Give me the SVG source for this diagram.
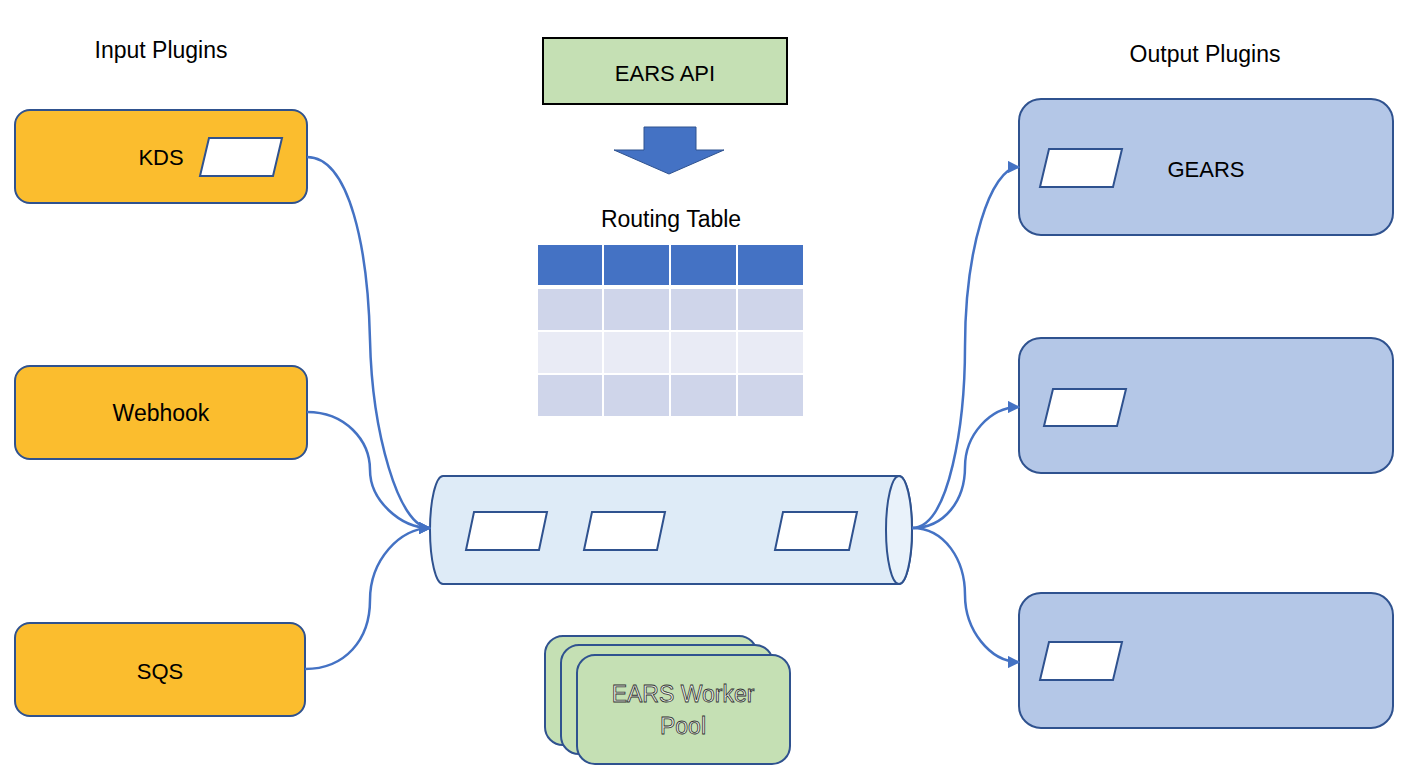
<svg xmlns="http://www.w3.org/2000/svg" width="1428" height="782" viewBox="0 0 1428 782">
<style>
  text { font-family: "Liberation Sans", Arial, sans-serif; fill: #000; text-anchor: middle; }
  .lbl { font-size: 23px; }
  .caps { font-size: 22px; }
  .inp { fill: #fbbd2e; stroke: #2f528f; stroke-width: 2; }
  .out { fill: #b4c7e7; stroke: #2f528f; stroke-width: 2; }
  .msg { fill: #ffffff; stroke: #2f528f; stroke-width: 2; }
  .conn { fill: none; stroke: #4472c4; stroke-width: 2.5; }
  .wp { fill: #c5e0b4; stroke: #2f528f; stroke-width: 2; }
  .hollow { font-size: 23px; fill: #eef3ea; stroke: #333333; stroke-width: 0.8; }
</style>
<defs>
  <marker id="arr" viewBox="0 0 10 10" refX="9" refY="5" markerWidth="5" markerHeight="5" orient="auto" markerUnits="strokeWidth">
    <path d="M0,0 L10,5 L0,10 Z" fill="#4472c4"/>
  </marker>
</defs>
<rect width="1428" height="782" fill="#ffffff"/>

<text class="lbl" x="161" y="58">Input Plugins</text>
<text class="lbl" x="1205" y="62">Output Plugins</text>

<g id="kds">
  <rect class="inp" x="15" y="110" width="292" height="93" rx="15"/>
  <text class="caps" x="161" y="165">KDS</text>
  <polygon class="msg" points="200,176 209,138 282,138 273,176"/>
</g>
<g id="webhook">
  <rect class="inp" x="15" y="366" width="292" height="93" rx="15"/>
  <text class="lbl" x="161" y="421">Webhook</text>
</g>
<g id="sqs">
  <rect class="inp" x="15" y="623" width="290" height="93" rx="15"/>
  <text class="caps" x="160" y="679">SQS</text>
</g>

<g id="ears-api">
  <rect x="543" y="38" width="244" height="66" fill="#c5e0b4" stroke="#000" stroke-width="2"/>
  <text class="caps" x="665" y="81">EARS API</text>
</g>
<g id="api-arrow">
  <polygon points="644,127 696,127 696,150 724,150 669,174 614,150 644,150" fill="#4472c4" stroke="#2f528f" stroke-width="1"/>
</g>

<g id="routing-table">
  <text class="lbl" x="671" y="227">Routing Table</text>
  <g stroke="#ffffff" stroke-width="2">
    <rect x="537" y="244" width="66" height="42" fill="#4472c4"/>
    <rect x="603" y="244" width="67" height="42" fill="#4472c4"/>
    <rect x="670" y="244" width="67" height="42" fill="#4472c4"/>
    <rect x="737" y="244" width="67" height="42" fill="#4472c4"/>
    <rect x="537" y="288" width="66" height="43" fill="#cfd5ea"/>
    <rect x="603" y="288" width="67" height="43" fill="#cfd5ea"/>
    <rect x="670" y="288" width="67" height="43" fill="#cfd5ea"/>
    <rect x="737" y="288" width="67" height="43" fill="#cfd5ea"/>
    <rect x="537" y="331" width="66" height="43" fill="#e9ebf5"/>
    <rect x="603" y="331" width="67" height="43" fill="#e9ebf5"/>
    <rect x="670" y="331" width="67" height="43" fill="#e9ebf5"/>
    <rect x="737" y="331" width="67" height="43" fill="#e9ebf5"/>
    <rect x="537" y="374" width="66" height="43" fill="#cfd5ea"/>
    <rect x="603" y="374" width="67" height="43" fill="#cfd5ea"/>
    <rect x="670" y="374" width="67" height="43" fill="#cfd5ea"/>
    <rect x="737" y="374" width="67" height="43" fill="#cfd5ea"/>
  </g>
</g>

<g id="queue">
  <path d="M443,476 L899,476 A13,54 0 0 1 899,584 L443,584 A13,54 0 0 1 443,476 Z" fill="#deebf7" stroke="#2f528f" stroke-width="2"/>
  <ellipse cx="899" cy="530" rx="13" ry="54" fill="#e9f2fa" stroke="#2f528f" stroke-width="2"/>
  <polygon class="msg" points="466,550 474,512 547,512 539,550"/>
  <polygon class="msg" points="584,550 592,512 665,512 657,550"/>
  <polygon class="msg" points="775,550 783,512 857,512 849,550"/>
</g>

<g id="worker-pool">
  <rect class="wp" x="545" y="636" width="212" height="109" rx="18"/>
  <rect class="wp" x="561" y="645" width="212" height="109" rx="18"/>
  <rect class="wp" x="577" y="655" width="213" height="109" rx="18"/>
  <text class="hollow" x="683" y="702">EARS Worker</text>
  <text class="hollow" x="683" y="734">Pool</text>
</g>

<g id="gears">
  <rect class="out" x="1019" y="99" width="374" height="136" rx="22"/>
  <polygon class="msg" points="1040,187 1049,149 1122,149 1113,187"/>
  <text class="caps" x="1206" y="177">GEARS</text>
</g>
<g id="output-2">
  <rect class="out" x="1019" y="338" width="374" height="135" rx="22"/>
  <polygon class="msg" points="1044,426 1053,389 1126,389 1117,426"/>
</g>
<g id="output-3">
  <rect class="out" x="1019" y="593" width="374" height="135" rx="22"/>
  <polygon class="msg" points="1040,680 1049,642 1122,642 1113,680"/>
</g>

<g id="connectors">
  <path class="conn" d="M307,157 C350,157 368,250 370,340 C372,430 398,528 430,528" marker-end="url(#arr)"/>
  <path class="conn" d="M307,412 C345,412 370,440 370,470 C370,500 400,528 430,528" marker-end="url(#arr)"/>
  <path class="conn" d="M305,669 C345,669 370,640 370,600 C370,560 400,528 430,528" marker-end="url(#arr)"/>
  <path class="conn" d="M912,528 C950,528 965,420 965,347 C965,250 990,167 1019,167" marker-end="url(#arr)"/>
  <path class="conn" d="M912,528 C945,528 965,500 965,467 C965,435 990,407 1019,407" marker-end="url(#arr)"/>
  <path class="conn" d="M912,528 C945,528 965,560 965,595 C965,630 990,662 1019,662" marker-end="url(#arr)"/>
</g>
</svg>
